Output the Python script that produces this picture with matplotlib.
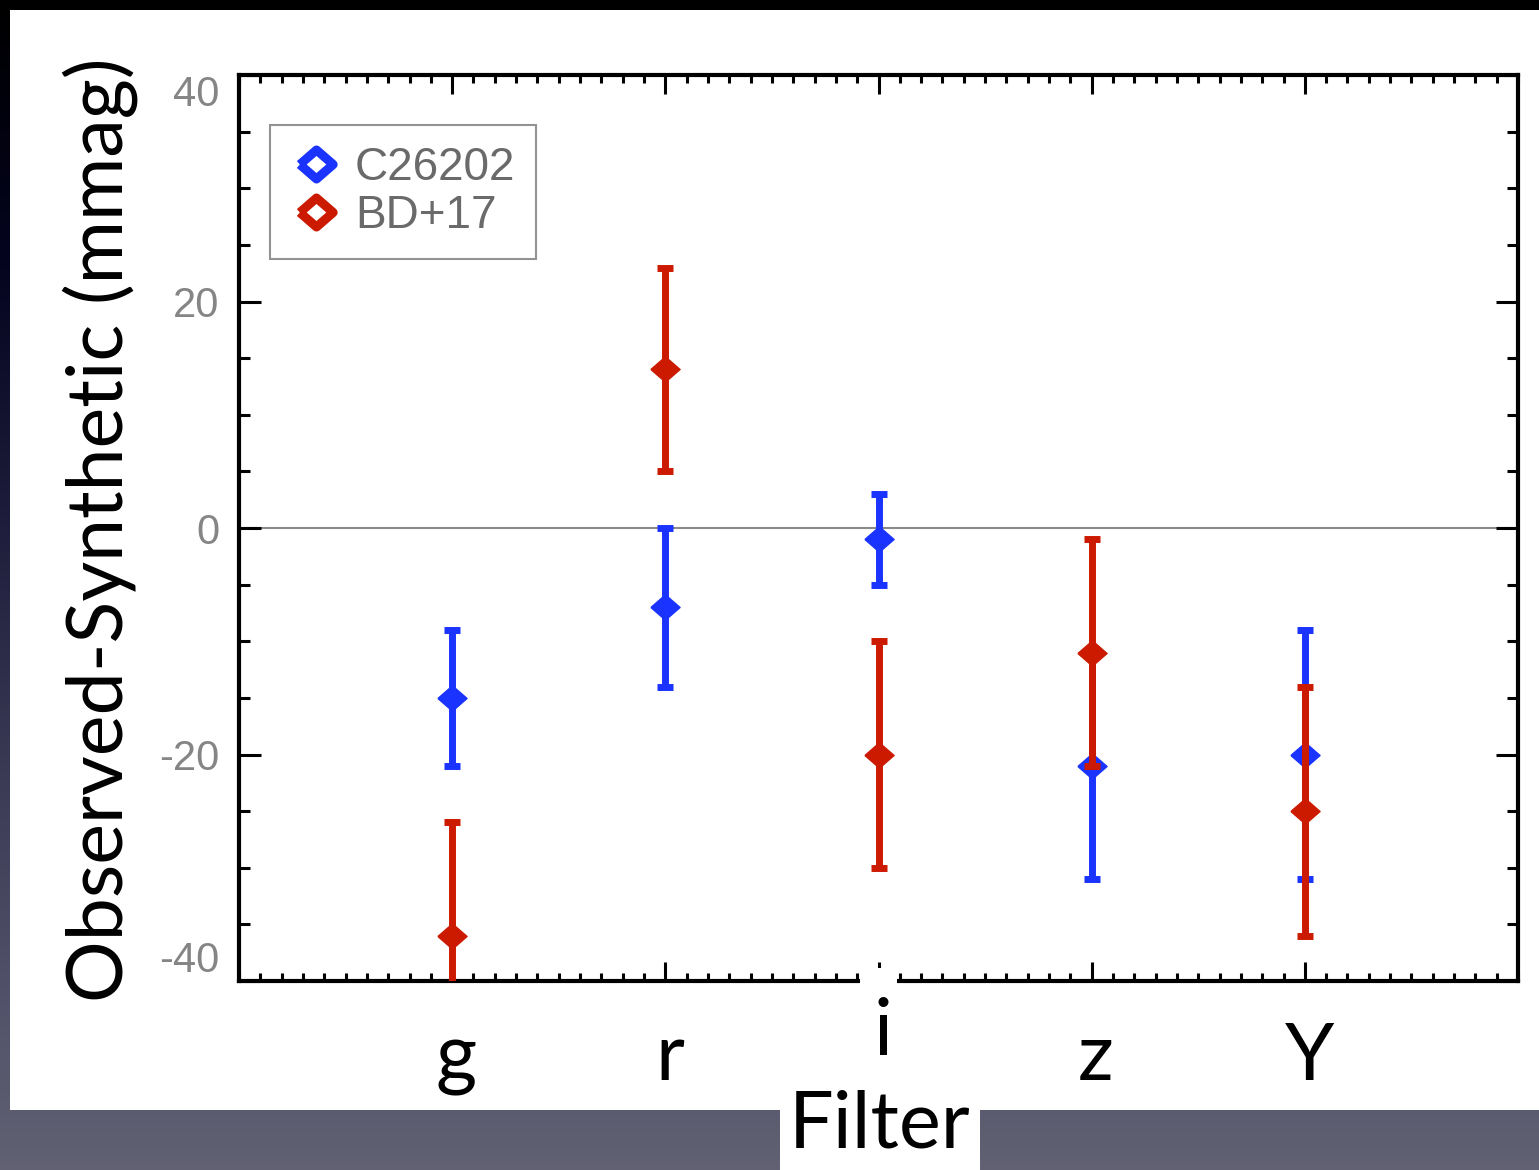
import numpy as np
import matplotlib
matplotlib.use("Agg")
import matplotlib.pyplot as plt
from matplotlib.lines import Line2D
from matplotlib.patches import Rectangle
from matplotlib.ticker import MultipleLocator
import matplotlib.transforms as mtransforms
from matplotlib.colors import LinearSegmentedColormap

plt.rcParams["axes.unicode_minus"] = False

# ---- data ----
filters = ["g", "r", "i", "z", "Y"]
filter_pos = [1, 2, 3, 4, 5]
c26202_vals = [-15, -7, -1, -21, -20]
c26202_errs = [6, 7, 4, 10, 11]
bd17_vals = [-36, 14, -20, -11, -25]
bd17_errs = [10, 9, 10, 10, 11]
series_names = ["C26202", "BD+17"]
yticks = [-40, -20, 0, 20, 40]

BLUE = "#1a33ff"
RED = "#cc1a00"

W, H = 1539, 1170
fig = plt.figure(figsize=(W / 100, H / 100), dpi=100)

# ---- slide background ----
bg = fig.add_axes([0, 0, 1, 1], zorder=-10)
bg.axis("off")
cmap = LinearSegmentedColormap.from_list(
    "slide",
    [(0.0, "#000000"), (0.22, "#04041f"), (0.45, "#1e1e3c"),
     (0.66, "#3a3a55"), (0.86, "#52526a"), (1.0, "#616173")])
grad = np.linspace(0, 1, 256).reshape(-1, 1)
bg.imshow(grad, cmap=cmap, aspect="auto", extent=[0, 1, 0, 1], origin="upper")
bg.set_xlim(0, 1)
bg.set_ylim(0, 1)
bg.add_patch(Rectangle((10 / W, 1 - 1110 / H), 1 - 10 / W, 1100 / H,
                       facecolor="white", edgecolor="none"))

# ---- main axes ----
ax = fig.add_axes([239 / W, 1 - 981 / H, (1518 - 239) / W, 906 / H])
ax.set_facecolor("white")
ax.set_xlim(0, 6)
ax.set_ylim(-40, 40)

ax.axhline(0, color="#8a8a8a", lw=1.5, zorder=1)

diamond = [(-1, 0), (0, 0.87), (1, 0), (0, -0.87), (-1, 0)]

ax.errorbar(filter_pos, c26202_vals, yerr=c26202_errs, fmt="none",
            ecolor=BLUE, elinewidth=5, capsize=6, capthick=5, zorder=3)
ax.plot(filter_pos, c26202_vals, ls="none", marker=diamond, ms=21,
        color=BLUE, mec=BLUE, mew=1, zorder=3)
ax.errorbar(filter_pos, bd17_vals, yerr=bd17_errs, fmt="none",
            ecolor=RED, elinewidth=5, capsize=6, capthick=5, zorder=4)
ax.plot(filter_pos, bd17_vals, ls="none", marker=diamond, ms=21,
        color=RED, mec=RED, mew=1, zorder=4)

for s in ax.spines.values():
    s.set_linewidth(3)
    s.set_color("black")

ax.set_xticks(filter_pos)
ax.set_xticklabels([])
ax.xaxis.set_minor_locator(MultipleLocator(0.1))
ax.set_yticks(yticks)
ax.yaxis.set_minor_locator(MultipleLocator(5))
ax.tick_params(which="both", direction="in", top=True, right=True,
               width=2.2, color="black")
ax.tick_params(axis="x", which="major", length=14)
ax.tick_params(axis="x", which="minor", length=6)
ax.tick_params(axis="y", which="major", length=16)
ax.tick_params(axis="y", which="minor", length=8)
ax.tick_params(axis="y", labelsize=30, labelcolor="#858585", pad=14)
ylabels = ax.get_yticklabels()
for lab in ylabels:
    lab.set_family("Liberation Sans")
ylabels[0].set_va("bottom")
ylabels[-1].set_va("top")

# filter labels
tr = mtransforms.blended_transform_factory(ax.transData, ax.transAxes)
for p, f in zip(filter_pos, filters):
    yb = -0.0817 if f == "i" else -0.1093
    if f == "i":
        ax.add_patch(Rectangle((p - 0.085, -0.085), 0.17, 0.0995,
                               transform=tr, facecolor="white",
                               edgecolor="none", clip_on=False, zorder=5))
    ax.text(p + 0.02, yb, f, transform=tr, ha="center", va="baseline",
            fontsize=57, family="Lato", color="black", zorder=6,
            clip_on=False)

# legend
handles = [Line2D([], [], ls="none", marker=diamond, ms=24, mfc="white",
                  mec=BLUE, mew=6.5),
           Line2D([], [], ls="none", marker=diamond, ms=24, mfc="white",
                  mec=RED, mew=6.5)]
leg = ax.legend(handles, series_names, loc="upper left",
                bbox_to_anchor=((270 - 239) / 1279, (981 - 125) / 906),
                borderaxespad=0, frameon=True, fancybox=False,
                prop={"family": "Liberation Sans", "size": 33},
                labelcolor="#6a6a6a", handlelength=1.1, handletextpad=0.3,
                labelspacing=0.1, borderpad=0.45)
leg.get_frame().set_edgecolor("#777777")
leg.get_frame().set_linewidth(1.5)

# axis titles
fig.text(100 / W, 1 - 530 / H, "Observed-Synthetic (mmag)", rotation=90,
         ha="center", va="center", fontsize=55.5, family="Lato", color="black")
fig.text(880 / W, 1 - 1148 / H, "Filter", ha="center", va="baseline",
         fontsize=57, family="Lato", color="black",
         bbox=dict(boxstyle="square,pad=0.12", fc="white", ec="none"))

fig.savefig("out.png", dpi=100)
